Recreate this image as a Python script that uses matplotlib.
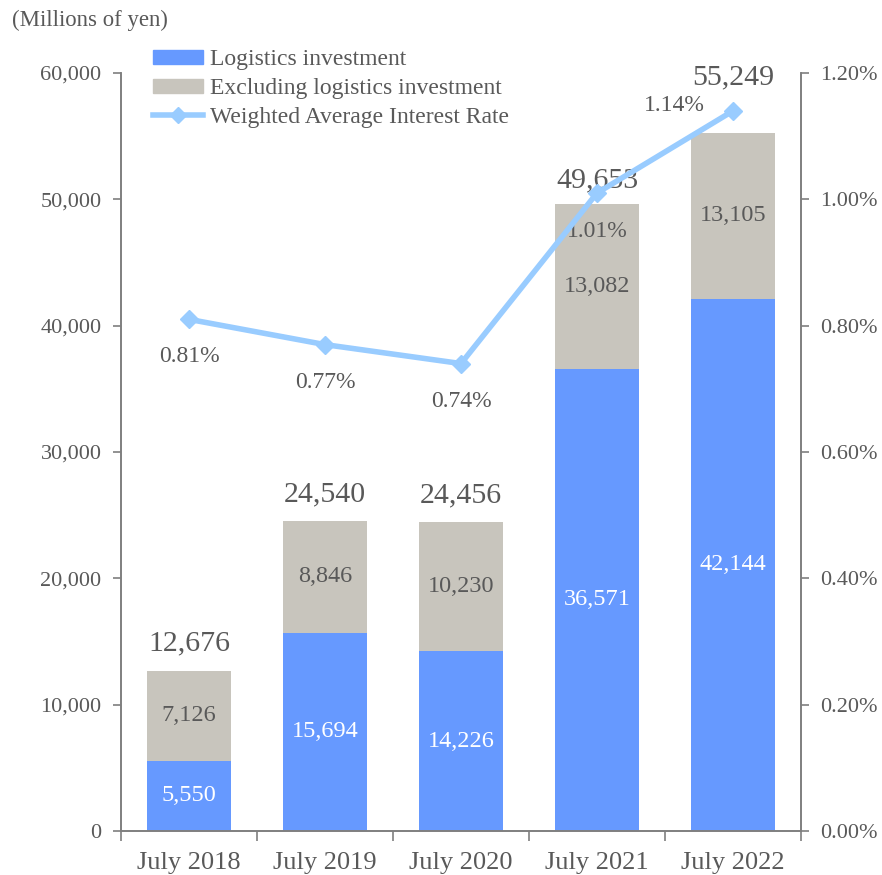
import matplotlib
matplotlib.use("Agg")
import matplotlib.pyplot as plt
from matplotlib.lines import Line2D
from matplotlib.patches import Patch

plt.rcParams['font.family'] = ['Liberation Serif', 'DejaVu Serif']

# data
periods = ['July 2018', 'July 2019', 'July 2020', 'July 2021', 'July 2022']
logistics = [5550, 15694, 14226, 36571, 42144]
excluding = [7126, 8846, 10230, 13082, 13105]
totals = [12676, 24540, 24456, 49653, 55249]
rates = [0.81, 0.77, 0.74, 1.01, 1.14]

# label offsets (points)
total_offsets = [(0, 20), (0, 19), (0, 19), (0, 17), (0, 40)]
rate_offsets = [(0, -27), (0, -27), (0, -27), (0, -28), (-42, 4)]

blue = '#6699FF'
gray = '#C8C5BD'
line_col = '#99CCFF'
txt = '#595959'
spine_col = '#7F7F7F'

fig = plt.figure(figsize=(8.82, 8.75), dpi=100)
ax = fig.add_axes([121 / 882, 44 / 875, 680 / 882, 758 / 875])
ax2 = ax.twinx()

x = list(range(len(periods)))
ax.bar(x, logistics, width=0.62, color=blue, zorder=2)
ax.bar(x, excluding, width=0.62, bottom=logistics, color=gray, zorder=2)

for i in x:
    ax.text(i, logistics[i] / 2, f'{logistics[i]:,}', ha='center', va='center',
            color='white', fontsize=17.5)
    ax.text(i, logistics[i] + excluding[i] / 2, f'{excluding[i]:,}', ha='center',
            va='center', color=txt, fontsize=17.5)
    ax.annotate(f'{totals[i]:,}', (i, totals[i]), xytext=total_offsets[i],
                textcoords='offset points', ha='center', va='center',
                color=txt, fontsize=21.5)

ax2.plot(x, rates, color=line_col, lw=4, marker='D', ms=9, zorder=5)
for i in x:
    ax2.annotate(f'{rates[i]:.2f}%', (i, rates[i]), xytext=rate_offsets[i],
                 textcoords='offset points', ha='center', va='center',
                 color=txt, fontsize=17)

ax.set_xlim(-0.5, 4.5)
ax.set_ylim(0, 60000)
ax2.set_ylim(0, 1.2)
ax.set_yticks(range(0, 60001, 10000))
ax.set_yticklabels([f'{v:,}' for v in range(0, 60001, 10000)])
ax2.set_yticks([0, 0.2, 0.4, 0.6, 0.8, 1.0, 1.2])
ax2.set_yticklabels([f'{v:.2f}%' for v in [0, 0.2, 0.4, 0.6, 0.8, 1.0, 1.2]])

ax.set_xticks(x)
ax.set_xticklabels(periods)
ax.set_xticks([i - 0.5 for i in range(len(periods) + 1)], minor=True)
ax.tick_params(axis='x', which='major', length=0, pad=15, labelsize=19, labelcolor=txt)
ax.tick_params(axis='x', which='minor', length=7, color=spine_col, width=1.2)
ax.tick_params(axis='y', length=6, color=spine_col, width=1.2, labelsize=16,
               labelcolor=txt, pad=8)
ax2.tick_params(axis='y', length=6, color=spine_col, width=1.2, labelsize=16,
                labelcolor=txt, pad=8)

for a in (ax, ax2):
    a.spines['top'].set_visible(False)
    for s in ('left', 'right', 'bottom'):
        a.spines[s].set_color(spine_col)
        a.spines[s].set_linewidth(1.2)

fig.text(12 / 882, 1 - 20 / 875, '(Millions of yen)', ha='left', va='center',
         color=txt, fontsize=16.4)

handles = [Patch(color=blue), Patch(color=gray),
           Line2D([], [], color=line_col, lw=4, marker='D', ms=8)]
labels = ['Logistics investment', 'Excluding logistics investment',
          'Weighted Average Interest Rate']
leg = fig.legend(handles, labels, loc='upper left',
                 bbox_to_anchor=(153 / 882, 1 - 49 / 875), frameon=False,
                 fontsize=17, handlelength=2.1, handleheight=0.55,
                 labelspacing=0.34, handletextpad=0.3, borderaxespad=0,
                 borderpad=0)
for t in leg.get_texts():
    t.set_color(txt)

fig.savefig('out.png', dpi=100)
